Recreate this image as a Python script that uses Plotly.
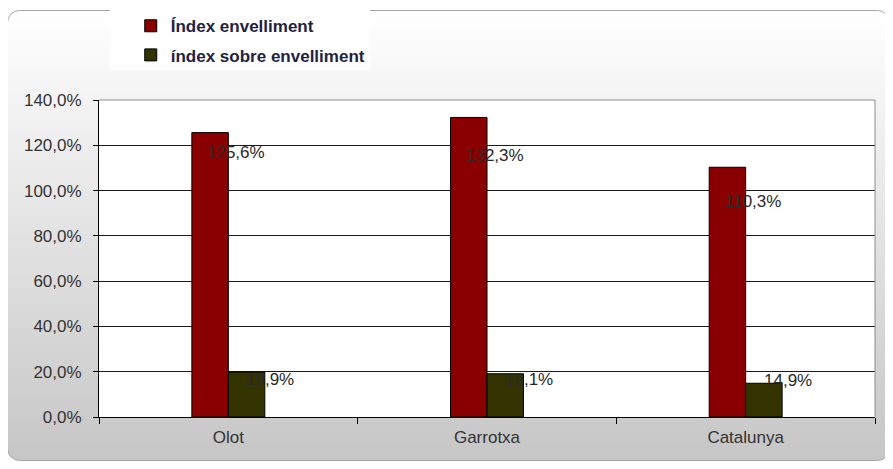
import base64
import plotly.graph_objects as go

categories = ["Olot", "Garrotxa", "Catalunya"]
index_envelliment = [125.6, 132.3, 110.3]
index_sobre_envelliment = [19.9, 19.1, 14.9]
series_names = ["Índex envelliment", "índex sobre envelliment"]
y_ticks = [0, 20, 40, 60, 80, 100, 120, 140]
y_tick_labels = [f"{v:.1f}%".replace(".", ",") for v in y_ticks]

# label pixel offsets (style only)
red_label_yshift = [-20, -38, -34]
olive_label_yshift = [-8, -6, 3]

# the page body has an 8px margin; the figure is sized to fill the rest
W, H = 885, 461
ML, MR, MT, MB = 91, 18, 92, 52
PW, PH = W - ML - MR, H - MT - MB

svg = f'''<svg xmlns="http://www.w3.org/2000/svg" width="{W}" height="{H}" viewBox="0 0 {W} {H}">
<defs><linearGradient id="g" x1="0" y1="0" x2="0" y2="1">
<stop offset="0" stop-color="#ffffff"/><stop offset="1" stop-color="#c6c6c6"/></linearGradient></defs>
<rect x="0" y="0" width="{W}" height="{H}" fill="#ffffff"/>
<rect x="-0.5" y="2.5" width="882" height="450" rx="12" ry="12" fill="url(#g)" stroke="#a8a8a8" stroke-width="1"/>
<rect x="102" y="2" width="260" height="60" fill="#ffffff"/>
<rect x="{ML}" y="{MT}" width="{PW}" height="{PH}" fill="#ffffff"/>
</svg>'''
svg_uri = "data:image/svg+xml;base64," + base64.b64encode(svg.encode()).decode()

fig = go.Figure()
fig.add_trace(go.Bar(
    x=categories, y=index_envelliment, name=series_names[0],
    marker=dict(color="#8a0000", line=dict(color="#000000", width=1)),
    legendgroup="a", hoverinfo="skip",
))
fig.add_trace(go.Bar(
    x=categories, y=index_sobre_envelliment, name=series_names[1],
    marker=dict(color="#333300", line=dict(color="#000000", width=1)),
    legendgroup="b", hoverinfo="skip",
))

label_font = dict(family="Liberation Sans, Arial", size=17, color="#2a2a2a")
annotations = []
for cat, v, ys in zip(categories, index_envelliment, red_label_yshift):
    annotations.append(dict(
        x=cat, y=v, xref="x", yref="y", text=f"{v:.1f}%".replace(".", ","),
        showarrow=False, xanchor="left", yanchor="middle", xshift=-23, yshift=ys,
        font=label_font,
    ))
for cat, v, ys in zip(categories, index_sobre_envelliment, olive_label_yshift):
    annotations.append(dict(
        x=cat, y=v, xref="x", yref="y", text=f"{v:.1f}%".replace(".", ","),
        showarrow=False, xanchor="left", yanchor="middle", xshift=16, yshift=ys,
        font=label_font,
    ))

fig.update_layout(
    width=W, height=H,
    margin=dict(l=ML, r=MR, t=MT, b=MB, pad=0, autoexpand=False),
    paper_bgcolor="#ffffff",
    plot_bgcolor="rgba(0,0,0,0)",
    barmode="group",
    bargap=0.718,
    bargroupgap=0,
    font=dict(family="Liberation Sans, Arial", size=17, color="#333333"),
    images=[dict(
        source=svg_uri, xref="paper", yref="paper",
        x=-ML / PW, y=(PH + MT) / PH, sizex=W / PW, sizey=H / PH,
        xanchor="left", yanchor="top", sizing="stretch", layer="below",
    )],
    legend=dict(
        xref="container", yref="container",
        x=0.1387, y=0.9995, xanchor="left", yanchor="top",
        bgcolor="rgba(255,255,255,0)", borderwidth=0,
        font=dict(family="Liberation Sans, Arial", size=17, color="#1f2240", weight="bold"),
        tracegroupgap=4, itemwidth=30, traceorder="grouped",
    ),
    showlegend=True,
    annotations=annotations,
    shapes=[dict(
        type="path", xref="paper", yref="paper",
        path="M 0,1 L 1,1 L 1,0", line=dict(color="#8c8c8c", width=1), layer="above",
    )],
    xaxis=dict(
        showgrid=False, showline=True, linecolor="#000000", linewidth=1,
        ticks="outside", tickson="boundaries", ticklen=6, tickcolor="#000000",
        ticklabelstandoff=5,
        tickfont=dict(size=17, color="#333333"), fixedrange=True,
    ),
    yaxis=dict(
        range=[0, 140], tickmode="array", tickvals=y_ticks, ticktext=y_tick_labels,
        showgrid=True, gridcolor="#1a1a1a", gridwidth=1,
        showline=True, linecolor="#000000", linewidth=1,
        ticks="outside", ticklen=5, tickcolor="#000000",
        ticklabelstandoff=8,
        tickfont=dict(size=17, color="#333333"), zeroline=False, fixedrange=True,
    ),
)

fig.write_html("out.html", config={"displayModeBar": False})
